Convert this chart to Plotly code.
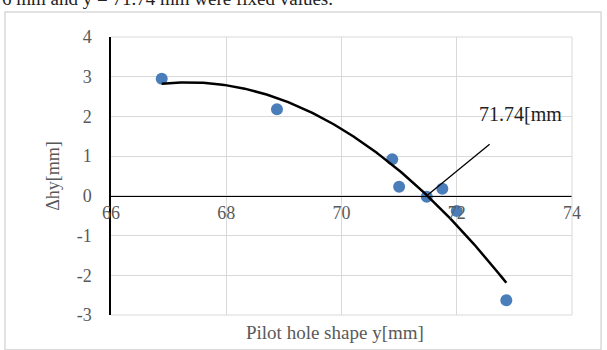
import numpy as np
import plotly.graph_objects as go

# Data
pilot_y = [66.88, 68.88, 70.88, 71.0, 71.48, 71.75, 72.0, 72.86]
delta_hy = [2.95, 2.18, 0.92, 0.23, -0.02, 0.18, -0.38, -2.63]
x_ticks = [66, 68, 70, 72, 74]
y_ticks = [-3, -2, -1, 0, 1, 2, 3, 4]
callout_label = "71.74[mm"
callout_from = [71.5, 0.03]
callout_to = [72.57, 1.3]
caption_text = "6 mm and y = 71.74 mm were fixed values."

# Polynomial (order 2) trendline, as in the spreadsheet chart
coef = np.polyfit(pilot_y, delta_hy, 2)
xs = np.linspace(min(pilot_y), max(pilot_y), 200)
ys = np.polyval(coef, xs)

serif = "Liberation Serif"
gray = "#595959"

fig = go.Figure()
fig.add_trace(go.Scatter(x=pilot_y, y=delta_hy, mode="markers",
                         marker=dict(color="#4a7ebb", size=12, line=dict(width=0)),
                         showlegend=False, hoverinfo="x+y"))
fig.add_trace(go.Scatter(x=xs, y=ys, mode="lines",
                         line=dict(color="black", width=2.5),
                         showlegend=False, hoverinfo="skip"))
# callout line
fig.add_trace(go.Scatter(x=[callout_from[0], callout_to[0]], y=[callout_from[1], callout_to[1]],
                         mode="lines", line=dict(color="black", width=1.3),
                         showlegend=False, hoverinfo="skip"))

fig.update_layout(
    width=607, height=350,
    margin=dict(l=111, r=35, t=37, b=35),
    paper_bgcolor="white", plot_bgcolor="white",
    font=dict(family=serif, color=gray, size=17),
    xaxis=dict(range=[66, 74], tickvals=x_ticks, ticktext=[str(v) for v in x_ticks],
               anchor="free", position=3/7,
               showline=True, linecolor="black", linewidth=1.3,
               showgrid=True, gridcolor="#d9d9d9", gridwidth=1,
               zeroline=False, ticks="", tickfont=dict(family=serif, size=18, color=gray)),
    yaxis=dict(range=[-3, 4], tickvals=y_ticks, ticktext=[str(v) for v in y_ticks],
               showline=True, linecolor="black", linewidth=1.5,
               showgrid=True, gridcolor="#d9d9d9", gridwidth=1,
               zeroline=False, ticks="", ticklabelstandoff=14,
               tickfont=dict(family=serif, size=18, color=gray),
               title=dict(text="Δhy[mm]", font=dict(family=serif, size=18, color=gray), standoff=12)),
)

# right, top and bottom frame lines
fig.add_shape(type="line", xref="paper", yref="paper", x0=1, x1=1, y0=0, y1=1,
              line=dict(color="#d9d9d9", width=1))
fig.add_shape(type="line", xref="paper", yref="paper", x0=0, x1=1, y0=1, y1=1,
              line=dict(color="#d9d9d9", width=1))
fig.add_shape(type="line", xref="paper", yref="paper", x0=0, x1=1, y0=0, y1=0,
              line=dict(color="#d9d9d9", width=1))
# chart border
fig.add_shape(type="rect", xref="paper", yref="paper", x0=-0.23, x1=1.063, y0=-0.125, y1=1.09,
              line=dict(color="#d9d9d9", width=1.5), layer="below")

fig.add_annotation(x=callout_to[0] - 0.22, y=2.07, xref="x", yref="y", text=callout_label,
                   showarrow=False, xanchor="left", font=dict(family=serif, size=20, color="#222222"))
fig.add_annotation(x=0.486, y=-0.062, xref="paper", yref="paper", text="Pilot hole shape y[mm]",
                   showarrow=False, yanchor="middle", font=dict(family=serif, size=19, color=gray))
fig.add_annotation(x=-0.24, y=1.095, xref="paper", yref="paper", text=caption_text,
                   showarrow=False, xanchor="left", yanchor="bottom",
                   font=dict(family=serif, size=19, color="#222222"))

fig.write_html("out.html", config={"displayModeBar": False},
               post_script="document.body.style.margin='0';")
